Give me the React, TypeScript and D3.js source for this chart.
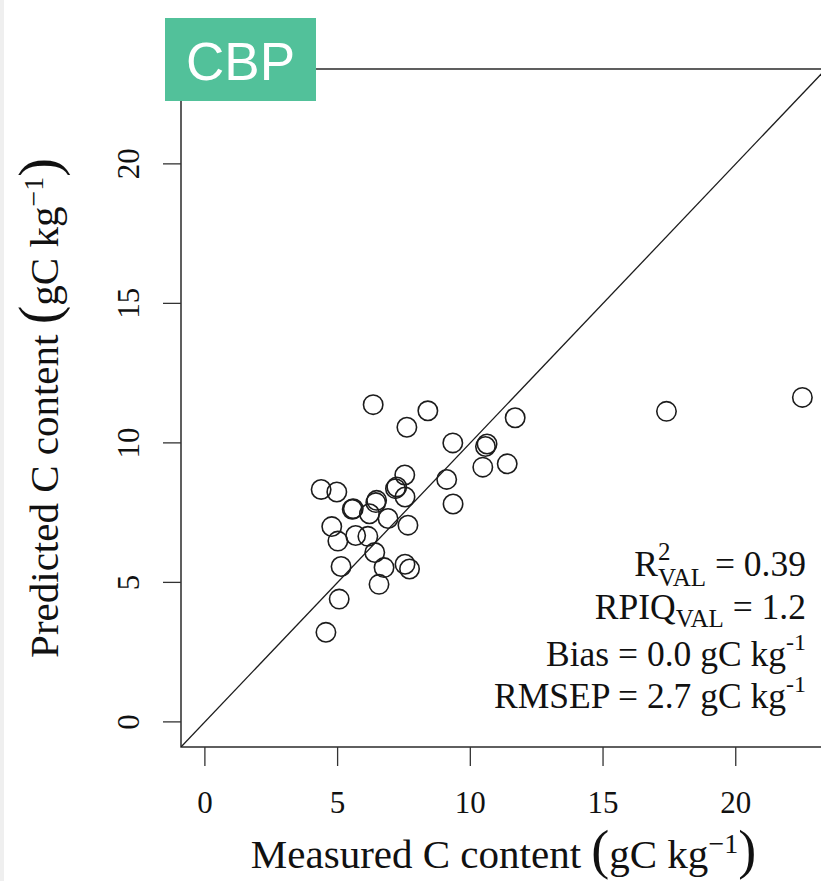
import React from "react";
import * as d3 from "d3";

// Measured vs predicted soil carbon (gC kg-1), validation set
const measured = [
  4.56, 5.06, 5.13, 5.01, 4.78, 4.38, 4.97, 5.59, 5.55, 5.68,
  6.14, 6.2, 6.47, 6.44, 6.4, 6.56, 6.75, 6.9, 6.34, 7.18,
  7.23, 7.54, 7.53, 7.61, 7.65, 7.54, 7.71, 8.4, 9.11, 9.35,
  9.34, 10.47, 10.63, 10.57, 11.39, 11.69, 17.39, 22.51,
];
const predicted = [
  3.21, 4.4, 5.57, 6.48, 7.0, 8.33, 8.24, 7.64, 7.62, 6.68,
  6.65, 7.46, 7.94, 7.86, 6.07, 4.93, 5.53, 7.29, 11.37, 8.36,
  8.42, 8.06, 8.85, 10.56, 7.05, 5.65, 5.48, 11.15, 8.69, 7.81,
  10.0, 9.13, 9.96, 9.87, 9.25, 10.9, 11.13, 11.63,
];
const xTicks = [0, 5, 10, 15, 20];
const yTicks = [0, 5, 10, 15, 20];
const axisLimits = [0, 22.5];

const W = 821;
const H = 881;

export default function App() {
  // plot region (R-style 4% padding around the limits)
  const plotLeft = 181;
  const plotRight = 826;
  const plotTop = 69;
  const plotBottom = 747;

  const pad = (axisLimits[1] - axisLimits[0]) * 0.04;
  const x = d3
    .scaleLinear()
    .domain([axisLimits[0] - pad, axisLimits[1] + pad])
    .range([plotLeft, plotRight]);
  const y = d3
    .scaleLinear()
    .domain([axisLimits[0] - pad, axisLimits[1] + pad])
    .range([plotBottom, plotTop]);

  const points = measured.map((m, i) => ({ m, p: predicted[i] }));
  const oneToOne = d3.line<number>()(
    [-2, 30].map((v) => [x(v), y(v)] as [number, number])
  );

  const serif = "'Liberation Serif', 'Times New Roman', serif";
  const ink = "#1c1c1c";
  const statX = 806;
  const tickFont = 31;

  return (
    <svg
      width={W}
      height={H}
      viewBox={`0 0 ${W} ${H}`}
      style={{ position: "absolute", left: 0, top: 0, background: "#fff" }}
    >
      <rect x={0} y={0} width={W} height={H} fill="#fff" />
      <rect x={0} y={0} width={4} height={H} fill="#efefef" />

      <defs>
        <clipPath id="plot-area">
          <rect
            x={plotLeft}
            y={plotTop}
            width={plotRight - plotLeft}
            height={plotBottom - plotTop}
          />
        </clipPath>
      </defs>

      {/* 1:1 line and observations */}
      <g clipPath="url(#plot-area)">
        <path d={oneToOne ?? ""} stroke={ink} strokeWidth={1.3} fill="none" />
        {points.map((d, i) => (
          <circle
            key={i}
            cx={x(d.m)}
            cy={y(d.p)}
            r={9.7}
            fill="none"
            stroke={ink}
            strokeWidth={1.6}
          />
        ))}
      </g>

      {/* frame */}
      <rect
        x={plotLeft}
        y={plotTop}
        width={plotRight - plotLeft}
        height={plotBottom - plotTop}
        fill="none"
        stroke={ink}
        strokeWidth={1.4}
      />

      {/* x axis */}
      <g fontFamily={serif} fontSize={tickFont} fill="#111">
        {xTicks.map((t) => (
          <g key={t}>
            <line
              x1={x(t)}
              x2={x(t)}
              y1={plotBottom}
              y2={plotBottom + 19}
              stroke="#333"
              strokeWidth={1.3}
            />
            <text x={x(t)} y={813} textAnchor="middle">
              {t}
            </text>
          </g>
        ))}
      </g>

      {/* y axis */}
      <g fontFamily={serif} fontSize={tickFont} fill="#111">
        {yTicks.map((t) => (
          <g key={t}>
            <line
              x1={plotLeft - 18}
              x2={plotLeft}
              y1={y(t)}
              y2={y(t)}
              stroke="#333"
              strokeWidth={1.3}
            />
            <text
              transform={`translate(139,${y(t)}) rotate(-90)`}
              textAnchor="middle"
            >
              {t}
            </text>
          </g>
        ))}
      </g>

      {/* axis titles */}
      <text
        x={(plotLeft + plotRight) / 2}
        y={868}
        textAnchor="middle"
        fontFamily={serif}
        fontSize={41}
        fill="#111"
      >
        <tspan>Measured C content </tspan>
        <tspan fontSize={54}>(</tspan>
        <tspan>gC kg</tspan>
        <tspan fontSize={28} dy={-15}>−1</tspan>
        <tspan fontSize={54} dy={15}>)</tspan>
      </text>
      <text
        transform={`translate(58,${(plotTop + plotBottom) / 2}) rotate(-90)`}
        textAnchor="middle"
        fontFamily={serif}
        fontSize={41}
        fill="#111"
      >
        <tspan>Predicted C content </tspan>
        <tspan fontSize={56}>(</tspan>
        <tspan>gC kg</tspan>
        <tspan fontSize={28} dy={-15}>−1</tspan>
        <tspan fontSize={56} dy={15}>)</tspan>
      </text>

      {/* validation statistics */}
      <g fontFamily={serif} fontSize={35.5} fill="#111" textAnchor="end">
        <text x={statX} y={576}>
          <tspan>R</tspan>
          <tspan fontSize={25} dy={-16}>2</tspan>
          <tspan fontSize={25} dx={-12.5} dy={26}>VAL</tspan>
          <tspan dy={-10}> = 0.39</tspan>
        </text>
        <text x={statX} y={619}>
          <tspan>RPIQ</tspan>
          <tspan fontSize={25} dy={8}>VAL</tspan>
          <tspan dy={-8}> = 1.2</tspan>
        </text>
        <text x={statX} y={666}>
          <tspan>Bias = 0.0 gC kg</tspan>
          <tspan fontSize={24} dy={-16}>-1</tspan>
        </text>
        <text x={statX} y={708}>
          <tspan>RMSEP = 2.7 gC kg</tspan>
          <tspan fontSize={24} dy={-16}>-1</tspan>
        </text>
      </g>

      {/* site label */}
      <rect x={165} y={18} width={151} height={83} fill="#52c19a" />
      <text
        x={240.5}
        y={80}
        textAnchor="middle"
        fontFamily="'Liberation Sans', Arial, sans-serif"
        fontSize={53}
        fill="#fff"
      >
        CBP
      </text>
    </svg>
  );
}
